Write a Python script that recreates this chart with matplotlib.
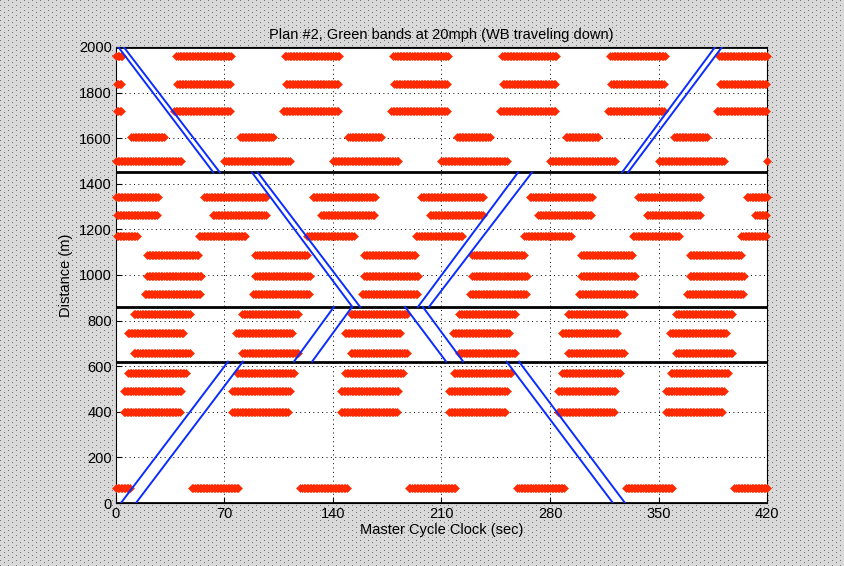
import numpy as np
import matplotlib
matplotlib.use("Agg")
import matplotlib.pyplot as plt

# Signal cycle length (sec) and the red periods for each lane row
CYCLE = 70
row_dist = [1960, 1838, 1719, 1605, 1498,
            1342, 1263, 1171, 1088, 996, 917,
            829, 746, 658,
            570, 491, 399, 66]
red_start = [39, 39.5, 37.5, 10, 0,
             57, 62.5, 53.5, 20, 20, 18.5,
             11.5, 7.5, 11.5,
             8, 5, 5, 49]
red_end = [74, 73.5, 74.3, 31.5, 42.5,
           97, 97.3, 84.3, 53.5, 55, 54.5,
           47.8, 43.7, 47.8,
           45, 42.5, 41.5, 79.5]

# Intersection locations (m)
intersections = [0, 620, 860, 1450, 2000]

# Green band edges, one entry per line: (t0, d0) -> (t1, d1)
band_t0 = [1.5, 5.0, 87.7, 91.5, 186.5, 198.0, 252.0, 260.0,
           3.2, 12.9, 114.8, 126.5, 194.8, 201.9, 326.5, 330.3]
band_d0 = [2000, 2000, 1450, 1450, 860, 860, 620, 620,
           0, 0, 620, 620, 860, 860, 1450, 1450]
band_t1 = [62.8, 67.0, 152.5, 157.5, 213.0, 224.0, 320.6, 328.4,
           72.3, 81.9, 140.6, 152.3, 259.4, 268.4, 386.5, 391.0]
band_d1 = [1450, 1450, 860, 860, 620, 620, 0, 0,
           620, 620, 860, 860, 1450, 1450, 2000, 2000]

plt.rcParams['font.family'] = ['Liberation Sans', 'DejaVu Sans']

W, H = 844, 566
fig = plt.figure(figsize=(W / 100, H / 100), dpi=100, facecolor='#d6d6d6')

# Dotted grey window background (regular staggered dot texture)
yy, xx = np.mgrid[0:H, 0:W]
dots = ((xx % 8 == 0) & (yy % 5 == 0)) | ((xx % 8 == 4) & (yy % 5 == 2))
bg = np.where(dots, 0.45, 0.85)
fig.figimage(bg, xo=0, yo=0, cmap='gray', vmin=0, vmax=1, origin='upper', zorder=-10)

ax = fig.add_axes([0.1374, 0.1113, 0.7714, 0.8057])
ax.set_zorder(1)
ax.set_facecolor('white')

# Red phases as chains of diamond markers, one marker per second
for d, s, e in zip(row_dist, red_start, red_end):
    t = []
    for k in range(-2, 7):
        seg = np.arange(s, e + 0.01, 1.0) + k * CYCLE
        t.extend(seg[(seg >= 0) & (seg <= 420)])
    t = np.array(t)
    ax.plot(t, np.full(len(t), d), linestyle='none', marker='D', markersize=4.0,
            color='#ff2a00', markeredgewidth=0.4, clip_on=False, zorder=3)

# Intersection lines
for d in intersections:
    ax.axhline(d, color='black', linewidth=2.0, zorder=4)

# Green band edges
for t0, d0, t1, d1 in zip(band_t0, band_d0, band_t1, band_d1):
    ax.plot([t0, t1], [d0, d1], color='#0a2cff', linewidth=1.4, zorder=5)

ax.set_xlim(0, 420)
ax.set_ylim(0, 2000)
ax.set_xticks(np.arange(0, 421, 70))
ax.set_yticks(np.arange(0, 2001, 200))
ax.grid(True, linestyle=(0, (1, 3.5)), color='black', linewidth=0.7)
ax.set_axisbelow(True)
ax.tick_params(direction='in', length=4, labelsize=10.5, pad=3)
for sp in ax.spines.values():
    sp.set_linewidth(0.8)

ax.set_title('Plan #2, Green bands at 20mph (WB traveling down)', fontsize=10.5, pad=6)
ax.set_xlabel('Master Cycle Clock (sec)', fontsize=10.5, labelpad=1)
ax.set_ylabel('Distance (m)', fontsize=10.5, labelpad=4)

fig.savefig('out.png', dpi=100, facecolor=fig.get_facecolor())
